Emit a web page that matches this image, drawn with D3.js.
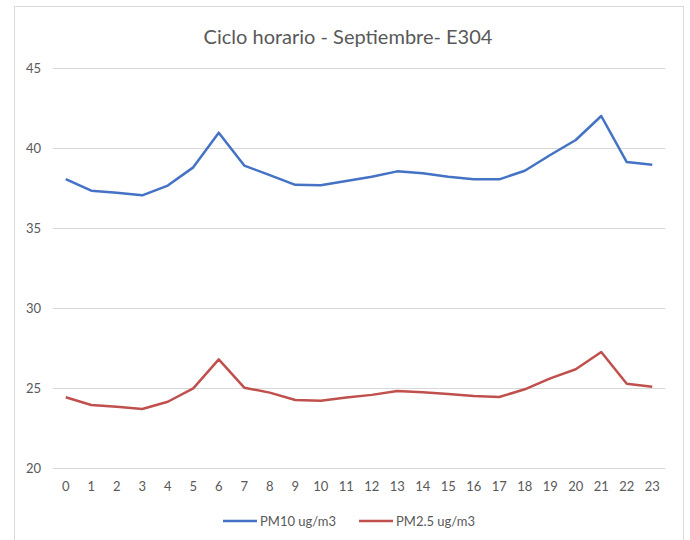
<!DOCTYPE html>
<html>
<head>
<meta charset="utf-8">
<script src="https://cdn.jsdelivr.net/npm/d3@7"></script>
<style>
  body { margin: 0; background: #fff; }
  svg text { font-family: Lato, 'Open Sans', sans-serif; fill: #595959; }
</style>
</head>
<body>
<div class="chart"></div>
<script>
const HOURS = d3.range(0, 24).map(String)
const PM10 = [38.06, 37.33, 37.2, 37.04, 37.65, 38.79, 40.96, 38.9, 38.3, 37.7, 37.67, 37.94,
  38.2, 38.54, 38.42, 38.2, 38.04, 38.04, 38.58, 39.56, 40.5, 42.0, 39.12, 38.96]
const PM25 = [24.42, 23.94, 23.83, 23.69, 24.14, 24.98, 26.79, 25.02, 24.71, 24.25, 24.21, 24.4,
  24.57, 24.81, 24.73, 24.63, 24.5, 24.44, 24.92, 25.6, 26.17, 27.25, 25.27, 25.08]
const Y_TICKS = [20, 25, 30, 35, 40, 45]
const SERIES = [
  { name: 'PM10 ug/m3', values: PM10, color: '#4472c4' },
  { name: 'PM2.5 ug/m3', values: PM25, color: '#c0504d' }
]

const W = 690
const H = 540
const margin = { top: 68, right: 25, bottom: 72, left: 53 }
const width = 665 - margin.left
const height = 468 - margin.top

const svg = d3.select('.chart').append('svg')
  .attr('width', W)
  .attr('height', H)

// chart frame
svg.append('rect')
  .attr('x', 14.5).attr('y', 6.5)
  .attr('width', 669).attr('height', 560)
  .attr('fill', '#fff')
  .attr('stroke', '#d9d9d9')

svg.append('text')
  .attr('x', 348).attr('y', 44)
  .attr('text-anchor', 'middle')
  .style('font-size', '20px')
  .text('Ciclo horario - Septiembre- E304')

const g = svg.append('g')
  .attr('transform', `translate(${margin.left},${margin.top})`)

const x = d3.scaleBand().domain(HOURS).range([0, width])
const y = d3.scaleLinear().domain([20, 45]).range([height, 0])

const yAxis = g.append('g')
  .call(d3.axisLeft(y).tickValues(Y_TICKS).tickSize(-width).tickPadding(12))
yAxis.select('.domain').remove()
yAxis.selectAll('line').attr('stroke', '#d9d9d9')
yAxis.selectAll('text').style('font-size', '13px').attr('fill', '#595959')

const xAxis = g.append('g')
  .attr('transform', `translate(0,${height})`)
  .call(d3.axisBottom(x).tickSize(0).tickPadding(14))
xAxis.select('.domain').remove()
xAxis.selectAll('text').style('font-size', '13px').attr('fill', '#595959')

const line = d3.line()
  .x((d, i) => x(HOURS[i]) + x.bandwidth() / 2)
  .y(d => y(d))

g.selectAll('path.series')
  .data(SERIES)
  .enter().append('path')
  .attr('class', 'series')
  .attr('fill', 'none')
  .attr('stroke', d => d.color)
  .attr('stroke-width', 2.5)
  .attr('stroke-linejoin', 'round')
  .attr('d', d => line(d.values))

// legend
const legendX = [223, 359]
const legend = svg.selectAll('g.legend')
  .data(SERIES)
  .enter().append('g')
  .attr('class', 'legend')
  .attr('transform', (d, i) => `translate(${legendX[i]},521)`)
legend.append('line')
  .attr('x1', 0).attr('x2', 34)
  .attr('stroke', d => d.color)
  .attr('stroke-width', 2.5)
legend.append('text')
  .attr('x', 37).attr('dy', '0.35em')
  .style('font-size', '13px')
  .text(d => d.name)
</script>
</body>
</html>
